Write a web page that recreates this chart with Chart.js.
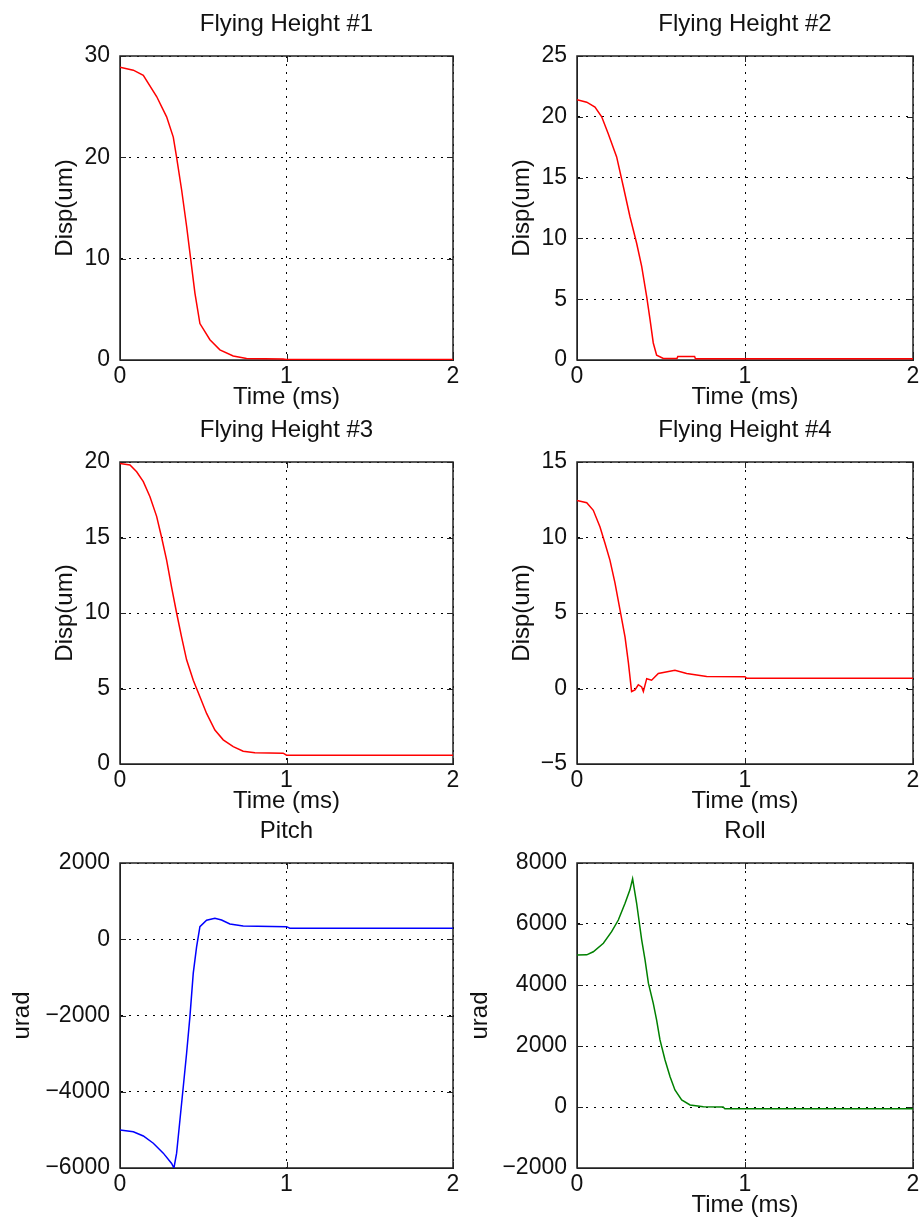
<!DOCTYPE html>
<html>
<head>
<meta charset="utf-8">
<script src="https://cdn.jsdelivr.net/npm/chart.js@4.4.0/dist/chart.umd.min.js"></script>
<style>
  html, body { margin: 0; padding: 0; background: #fff; overflow: hidden; }
  body { width: 920px; height: 1222px; position: relative; }
  canvas { position: absolute; }
</style>
</head>
<body>
<canvas id="fh1"></canvas>
<canvas id="fh2"></canvas>
<canvas id="fh3"></canvas>
<canvas id="fh4"></canvas>
<canvas id="pitch"></canvas>
<canvas id="roll"></canvas>
<script>
// time axis (ms) and values
const t1 = [0, 0.08, 0.14, 0.22, 0.28, 0.32, 0.34, 0.37, 0.40, 0.425, 0.45, 0.48, 0.54, 0.60, 0.68, 0.76, 0.98, 1.0, 2.0];
const h1 = [28.9, 28.6, 28.1, 26.0, 24.0, 22.0, 20.0, 16.8, 13.2, 9.9, 6.6, 3.6, 2.0, 1.0, 0.4, 0.15, 0.1, 0.05, 0.05];

const t2 = [0, 0.058, 0.107, 0.147, 0.186, 0.236, 0.276, 0.315, 0.355, 0.385, 0.415, 0.435, 0.454, 0.474, 0.514, 0.595, 0.60, 0.70, 0.705, 2.0];
const h2 = [21.4, 21.2, 20.8, 20.0, 18.6, 16.7, 14.25, 11.8, 9.6, 7.7, 5.2, 3.3, 1.4, 0.4, 0.12, 0.12, 0.28, 0.28, 0.1, 0.1];

const t3 = [0, 0.06, 0.10, 0.14, 0.18, 0.22, 0.25, 0.28, 0.31, 0.34, 0.37, 0.40, 0.44, 0.48, 0.52, 0.57, 0.62, 0.68, 0.74, 0.81, 0.98, 1.0, 2.0];
const h3 = [19.9, 19.8, 19.35, 18.7, 17.7, 16.4, 15.0, 13.5, 11.7, 10.0, 8.4, 6.9, 5.55, 4.45, 3.35, 2.25, 1.6, 1.15, 0.85, 0.75, 0.72, 0.58, 0.58];

const t4 = [0, 0.058, 0.097, 0.137, 0.167, 0.196, 0.226, 0.256, 0.286, 0.306, 0.325, 0.345, 0.365, 0.385, 0.395, 0.415, 0.444, 0.484, 0.583, 0.653, 0.772, 1.0, 1.01, 2.0];
const h4 = [12.45, 12.3, 11.8, 10.7, 9.6, 8.5, 7.0, 5.2, 3.4, 1.7, -0.2, -0.1, 0.25, 0.1, -0.2, 0.65, 0.55, 1.0, 1.2, 1.0, 0.8, 0.78, 0.68, 0.68];

const t5 = [0, 0.08, 0.14, 0.20, 0.26, 0.31, 0.324, 0.34, 0.36, 0.38, 0.40, 0.42, 0.44, 0.46, 0.48, 0.52, 0.57, 0.61, 0.66, 0.74, 1.0, 1.02, 2.0];
const pitch = [-5000, -5050, -5160, -5350, -5610, -5880, -6000, -5610, -4740, -3870, -2990, -2030, -890, -200, 330, 500, 550, 505, 400, 345, 330, 290, 290];

const t6 = [0, 0.058, 0.097, 0.157, 0.206, 0.246, 0.286, 0.315, 0.331, 0.355, 0.385, 0.405, 0.425, 0.454, 0.474, 0.494, 0.524, 0.554, 0.583, 0.623, 0.673, 0.752, 0.87, 0.88, 2.0];
const roll = [4980, 4990, 5090, 5370, 5750, 6130, 6680, 7120, 7480, 6680, 5480, 4820, 4060, 3400, 2850, 2200, 1540, 990, 560, 230, 65, 10, 0, -60, -60];

const xTicks = [0, 1, 2];

const FONT = '"Liberation Sans", Arial, sans-serif';
Chart.defaults.font.family = FONT;
Chart.defaults.color = '#111';

const AXIS = '#222';
const GRID = '#000';
const W = 475, H = 420;

// solid box round the axes, short inward ticks, and the title centred over the axes
const boxPlugin = {
  id: 'box',
  beforeDatasetsDraw(chart, args, opts) {
    const { ctx, chartArea: a, scales: { x, y } } = chart;
    ctx.save();
    ctx.strokeStyle = AXIS;
    ctx.lineWidth = 1.5;
    ctx.strokeRect(a.left, a.top, a.right - a.left, a.bottom - a.top);
    ctx.lineWidth = 1;
    ctx.beginPath();
    y.ticks.forEach(t => {
      const py = Math.round(y.getPixelForValue(t.value)) + 0.5;
      ctx.moveTo(a.left, py); ctx.lineTo(a.left + 6, py);
      ctx.moveTo(a.right, py); ctx.lineTo(a.right - 6, py);
    });
    x.ticks.forEach(t => {
      const px = Math.round(x.getPixelForValue(t.value)) + 0.5;
      ctx.moveTo(px, a.bottom); ctx.lineTo(px, a.bottom - 6);
      ctx.moveTo(px, a.top); ctx.lineTo(px, a.top + 6);
    });
    ctx.stroke();

    ctx.fillStyle = '#111';
    ctx.font = '24px ' + FONT;
    ctx.textAlign = 'center';
    ctx.textBaseline = 'middle';
    ctx.fillText(opts.text, (a.left + a.right) / 2, a.top - 32);
    ctx.restore();
  }
};

const fmt = v => String(v).replace('-', '\u2212');

function makeChart(p) {
  const cv = document.getElementById(p.id);
  cv.width = W; cv.height = H;
  cv.style.left = p.left + 'px';
  cv.style.top = p.top + 'px';

  const axisW = p.areaLeft - p.left;
  const axisH = H - (p.areaBottom - p.top);
  const padRight = W - (p.areaRight - p.left);
  const xTitlePad = axisH - 37 - 14.4;

  new Chart(cv, {
    type: 'line',
    data: {
      datasets: [{
        data: p.t.map((x, i) => ({ x: x, y: p.v[i] })),
        borderColor: p.color,
        borderWidth: 1.5,
        pointRadius: 0,
        tension: 0,
        fill: false
      }]
    },
    options: {
      responsive: false,
      animation: false,
      events: [],
      layout: { padding: { left: 0, right: padRight, top: 56, bottom: 0 } },
      plugins: {
        legend: { display: false },
        tooltip: { enabled: false },
        title: { display: false },
        box: { text: p.title }
      },
      scales: {
        x: {
          type: 'linear',
          min: 0, max: 2,
          afterBuildTicks: s => { s.ticks = xTicks.map(v => ({ value: v })); },
          ticks: { padding: 3, font: { size: 23 }, callback: fmt },
          grid: { color: GRID, lineWidth: 1, drawTicks: false },
          border: { color: AXIS, width: 1, dash: [2, 6] },
          title: {
            display: p.xLabel,
            text: 'Time (ms)',
            font: { size: 24 },
            padding: { top: 0, bottom: xTitlePad }
          },
          afterFit: s => { s.height = axisH; }
        },
        y: {
          min: p.yMin, max: p.yMax,
          ticks: { stepSize: p.yStep, padding: 10, font: { size: 23 }, callback: fmt },
          grid: { color: GRID, lineWidth: 1, drawTicks: false },
          border: { color: AXIS, width: 1, dash: [2, 6] },
          title: {
            display: true,
            text: p.yLabel,
            font: { size: 24 },
            padding: { top: p.yLabelX - p.left - 14.4, bottom: 0 }
          },
          afterFit: s => { s.width = axisW; }
        }
      }
    },
    plugins: [boxPlugin]
  });
}

const panels = [
  { id: 'fh1', left: 0, top: 0, areaLeft: 120, areaRight: 453, areaBottom: 360,
    title: 'Flying Height #1', t: t1, v: h1, color: '#ff0000',
    yMin: 0, yMax: 30, yStep: 10, yLabel: 'Disp(um)', yLabelX: 65, xLabel: true },
  { id: 'fh2', left: 460, top: 0, areaLeft: 577, areaRight: 913, areaBottom: 360,
    title: 'Flying Height #2', t: t2, v: h2, color: '#ff0000',
    yMin: 0, yMax: 25, yStep: 5, yLabel: 'Disp(um)', yLabelX: 522, xLabel: true },
  { id: 'fh3', left: 0, top: 406, areaLeft: 120, areaRight: 453, areaBottom: 764,
    title: 'Flying Height #3', t: t3, v: h3, color: '#ff0000',
    yMin: 0, yMax: 20, yStep: 5, yLabel: 'Disp(um)', yLabelX: 65, xLabel: true },
  { id: 'fh4', left: 460, top: 406, areaLeft: 577, areaRight: 913, areaBottom: 764,
    title: 'Flying Height #4', t: t4, v: h4, color: '#ff0000',
    yMin: -5, yMax: 15, yStep: 5, yLabel: 'Disp(um)', yLabelX: 522, xLabel: true },
  { id: 'pitch', left: 0, top: 807, areaLeft: 120, areaRight: 453, areaBottom: 1168,
    title: 'Pitch', t: t5, v: pitch, color: '#0000ff',
    yMin: -6000, yMax: 2000, yStep: 2000, yLabel: 'urad', yLabelX: 22, xLabel: false },
  { id: 'roll', left: 460, top: 807, areaLeft: 577, areaRight: 913, areaBottom: 1168,
    title: 'Roll', t: t6, v: roll, color: '#008000',
    yMin: -2000, yMax: 8000, yStep: 2000, yLabel: 'urad', yLabelX: 480, xLabel: true }
];

panels.forEach(makeChart);
</script>
</body>
</html>
